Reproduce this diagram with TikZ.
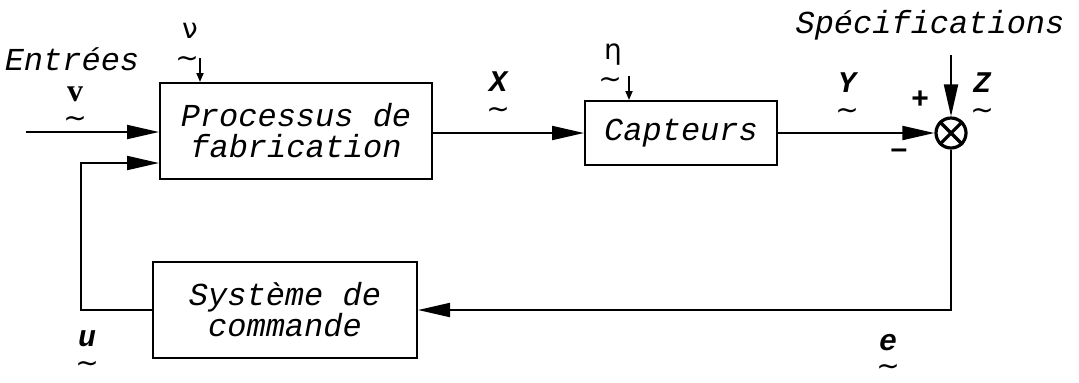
\documentclass[tikz,border=0pt]{standalone}
\usepackage{fontspec}
\setmonofont{Liberation Mono}
\newfontfamily\greekfont{DejaVu Sans}
\newfontfamily\serifbold{Liberation Serif}
\newfontfamily\sansbold{Liberation Sans}
\usetikzlibrary{arrows.meta}
\begin{document}
\begin{tikzpicture}[x=0.5pt,y=-0.5pt,
  blockbox/.style={draw,line width=1pt,inner sep=0pt,align=center,
    font=\fontsize{16}{15.5}\selectfont\ttfamily\itshape},
  txt/.style={inner sep=0pt,font=\fontsize{16}{16}\selectfont\ttfamily\itshape},
  var/.style={inner sep=0pt,text height=8.5pt,text depth=0pt,
    font=\fontsize{15}{15}\selectfont\ttfamily\itshape\bfseries},
  tl/.style={inner sep=0pt,text height=6pt,text depth=0pt,
    font=\fontsize{14}{14}\selectfont\greekfont},
  grk/.style={inner sep=0pt,text height=7.5pt,text depth=0pt,
    font=\fontsize{14}{14}\selectfont\greekfont},
  sgn/.style={inner sep=0pt,font=\fontsize{15}{15}\selectfont\sansbold\bfseries},
  big/.style={-{Triangle[length=16pt,width=7pt]},line width=1pt},
  small/.style={-{Triangle[length=4.5pt,width=3.5pt]},line width=0.9pt},
  conn/.style={line width=1pt}]
\useasboundingbox (0,0) rectangle (1079,382);

% blocks
\node[blockbox,minimum width=136pt,minimum height=48pt] (proc) at (296,131)
  {Processus de\\fabrication};
\node[blockbox,minimum width=96pt,minimum height=32pt] (capt) at (681,133)
  {Capteurs};
\node[blockbox,minimum width=132pt,minimum height=48pt] (cmd) at (285,310)
  {Syst\`eme de\\commande};
\node[draw,circle,line width=1.6pt,minimum size=15pt,inner sep=0pt] (sum) at (951,133) {};
\draw[line width=1.6pt] (sum.45) -- (sum.225) (sum.135) -- (sum.315);

% coordinates
\coordinate (in) at (26,132);
\coordinate (spec) at (951,55);
\coordinate (c1) at (951,310);
\coordinate (c3) at (81,163);
\coordinate (nu) at (200,58);
\coordinate (eta) at (629,76);

% connectors
\draw[big] (in) -- (in -| proc.west);
\draw[big] (proc.east |- capt.west) -- (capt.west);
\draw[big] (capt.east) -- (sum.west);
\draw[big] (spec) -- (sum.north);
\draw[big] (sum.south) -- (c1) -- (c1 -| cmd.east);
\draw[big] (cmd.west) -- (cmd.west -| c3) -- (c3) -- (c3 -| proc.west);
\draw[small] (nu) -- (nu |- proc.north);
\draw[small] (eta) -- (eta |- capt.north);

% labels
\node[txt] (lent) at (72,59) {Entr\'ees};
\node[inner sep=0pt,text height=7pt,text depth=0pt,
  font=\fontsize{16}{16}\selectfont\serifbold\bfseries] (lv) at (75,94) {v};
\node[tl] (lvt) at (75,121) {∼};
\node[grk] (lnu) at (190,31) {ν};
\node[tl] (lnut) at (187,61) {∼};
\node[var] (lx) at (498,83) {X};
\node[tl] (lxt) at (498,112) {∼};
\node[grk] (leta) at (613,52) {η};
\node[tl] (letat) at (610,82) {∼};
\node[var] (ly) at (847,84) {Y};
\node[tl] (lyt) at (847,113) {∼};
\node[txt] (lspec) at (930,25) {Sp\'ecifications};
\node[sgn] (lplus) at (920,100) {+};
\node[sgn] (lminus) at (899,154) {–};
\node[var] (lz) at (982,84) {Z};
\node[tl] (lzt) at (982,113) {∼};
\node[var] (lu) at (87,338) {u};
\node[tl] (lut) at (87,366) {∼};
\node[var] (le) at (888,342) {e};
\node[tl] (let) at (888,369) {∼};
\end{tikzpicture}
\end{document}
